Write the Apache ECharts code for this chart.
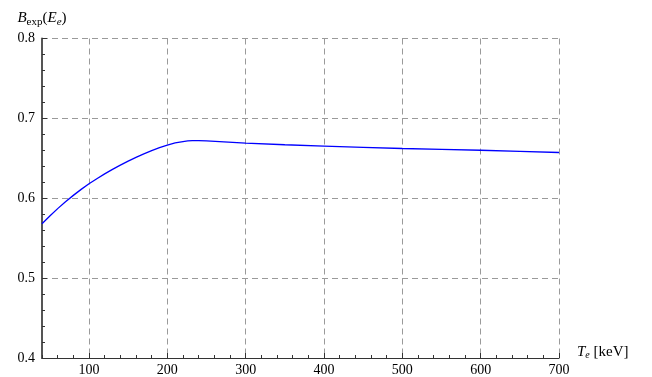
<!DOCTYPE html>
<html>
<head>
<meta charset="utf-8">
<script src="https://cdn.jsdelivr.net/npm/echarts@6/dist/echarts.min.js"></script>
<style>html,body{margin:0;padding:0;background:#fff;}#c{width:652px;height:377px;}</style>
</head>
<body>
<div id="c"></div>
<script>
const energies = [40,50,60,70,80,90,100,110,120,130,140,150,160,170,180,190,200,210,220,226,232,240,250,300,350,400,450,500,550,600,650,700];
const bexp = [0.568,0.5778,0.5870,0.5956,0.6036,0.6111,0.6181,0.6245,0.6305,0.6361,0.6414,0.6464,0.6511,0.6555,0.6596,0.6633,0.6666,0.6693,0.6710,0.6718,0.6722,0.6721,0.6718,0.669,0.667,0.6653,0.6638,0.6623,0.6612,0.6601,0.6587,0.6573];
const xTicks = [100,200,300,400,500,600,700];

const font = '"Liberation Serif", "DejaVu Serif", serif';
const chart = echarts.init(document.getElementById('c'));
chart.setOption({
  animation: false,
  backgroundColor: '#fff',
  grid: {left: 42, right: 93, top: 38.5, bottom: 17, containLabel: false},
  xAxis: [{
    type: 'value', min: 40, max: 700,
    axisLine: {show: true, lineStyle: {color: '#333', width: 1.2}},
    axisTick: {show: true, inside: true, length: 5, customValues: xTicks, lineStyle: {color: '#333'}},
    axisLabel: {customValues: xTicks, margin: 5, color: '#000', fontFamily: font, fontSize: 14},
    splitLine: {show: true, lineStyle: {color: '#9a9a9a', type: [6, 4], width: 1}},
    name: '{i|T}{is|e} [keV]',
    nameLocation: 'end', nameGap: 18,
    nameTextStyle: {
      fontFamily: font, fontSize: 15, color: '#000', verticalAlign: 'bottom', padding: [0,0,-2,0],
      rich: {
        i: {fontFamily: font, fontSize: 15, fontStyle: 'italic', color: '#000'},
        is: {fontFamily: font, fontSize: 10, fontStyle: 'italic', color: '#000', padding: [6,0,0,0]}
      }
    }
  }, {
    type: 'value', min: 40, max: 700, interval: 20, position: 'bottom',
    axisLine: {show: false},
    axisTick: {show: true, inside: true, length: 3, lineStyle: {color: '#333'}},
    axisLabel: {show: false},
    splitLine: {show: false}
  }],
  yAxis: {
    type: 'value', min: 0.4, max: 0.8, interval: 0.1,
    axisLine: {show: true, lineStyle: {color: '#555', width: 2}},
    axisTick: {show: true, inside: true, length: 5, lineStyle: {color: '#333'}},
    minorTick: {show: true, splitNumber: 5, length: 3, lineStyle: {color: '#333'}},
    axisLabel: {margin: 7, color: '#000', fontFamily: font, fontSize: 14, formatter: v => v.toFixed(1)},
    splitLine: {show: true, lineStyle: {color: '#9a9a9a', type: [6, 4], width: 1}},
    name: '{i|B}{s|exp}({i|E}{is|e})',
    nameLocation: 'end', nameGap: 11,
    nameTextStyle: {
      fontFamily: font, fontSize: 15, color: '#000',
      rich: {
        i: {fontFamily: font, fontSize: 15, fontStyle: 'italic', color: '#000'},
        s: {fontFamily: font, fontSize: 11, color: '#000', padding: [7,0,0,0]},
        is: {fontFamily: font, fontSize: 11, fontStyle: 'italic', color: '#000', padding: [7,0,0,0]}
      }
    }
  },
  series: [{
    type: 'line', xAxisIndex: 0,
    data: energies.map((e, i) => [e, bexp[i]]),
    showSymbol: false, smooth: false,
    lineStyle: {color: '#0000ff', width: 1.3}
  }]
});
</script>
</body>
</html>
